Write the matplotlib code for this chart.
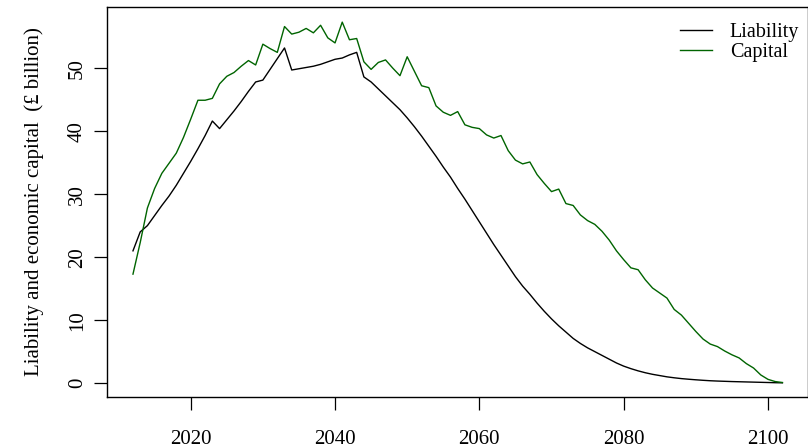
"""
Liability run-off vs economic capital, 2012-2102.
Output: out.png
"""
import matplotlib

matplotlib.use("Agg")
import matplotlib.pyplot as plt  # noqa: E402

plt.rcParams["font.family"] = ["Liberation Serif", "DejaVu Serif"]
plt.rcParams["font.size"] = 15

years = list(range(2012, 2103))

liability = [
    21.0, 24.0, 25.0, 26.6, 28.2, 29.7, 31.4, 33.3, 35.2, 37.2,
    39.3, 41.6, 40.4, 41.8, 43.2, 44.7, 46.3, 47.8, 48.1, 49.8,
    51.5, 53.2, 49.7, 49.9, 50.1, 50.3, 50.6, 51.0, 51.4, 51.6,
    52.1, 52.5, 48.6, 47.8, 46.7, 45.6, 44.5, 43.4, 42.1, 40.7,
    39.2, 37.6, 36.0, 34.3, 32.7, 30.9, 29.2, 27.4, 25.6, 23.8,
    22.0, 20.3, 18.6, 16.9, 15.4, 14.1, 12.7, 11.4, 10.2, 9.1,
    8.1, 7.1, 6.3, 5.6, 5.0, 4.4, 3.8, 3.2, 2.7, 2.3,
    1.95, 1.65, 1.4, 1.2, 1.0, 0.85, 0.72, 0.62, 0.53, 0.45,
    0.38, 0.33, 0.29, 0.25, 0.22, 0.19, 0.16, 0.13, 0.1, 0.07,
    0.05,
]

capital = [
    17.3, 22.3, 27.8, 30.9, 33.3, 34.9, 36.5, 39.0, 41.9, 44.9,
    44.9, 45.2, 47.5, 48.7, 49.3, 50.3, 51.2, 50.5, 53.8, 53.1,
    52.5, 56.6, 55.4, 55.7, 56.3, 55.6, 56.8, 54.8, 54.0, 57.3,
    54.5, 54.7, 51.0, 49.8, 50.9, 51.3, 50.0, 48.8, 51.8, 49.5,
    47.2, 46.9, 44.0, 43.0, 42.5, 43.1, 41.0, 40.6, 40.4, 39.4,
    38.9, 39.3, 36.9, 35.4, 34.8, 35.1, 33.1, 31.7, 30.4, 30.8,
    28.5, 28.2, 26.7, 25.8, 25.2, 24.1, 22.7, 21.0, 19.6, 18.3,
    18.0, 16.4, 15.1, 14.3, 13.5, 11.7, 10.8, 9.5, 8.2, 7.0,
    6.2, 5.8, 5.1, 4.5, 4.0, 3.1, 2.4, 1.3, 0.6, 0.25,
    0.1,
]

W, H = 808, 448
fig = plt.figure(figsize=(W / 100, H / 100), dpi=100)
ax = fig.add_axes([107 / W, 51 / H, 701.4 / W, 390 / H])

ax.plot(years, liability, color="black", lw=1.0, label="Liability")
ax.plot(years, capital, color="#006400", lw=1.0, label="Capital")

ax.set_xlim(2008.4, 2105.6)
ax.set_ylim(-2.2, 59.7)
ax.set_xticks([2020, 2040, 2060, 2080, 2100])
ax.set_yticks([0, 10, 20, 30, 40, 50])
ax.tick_params(axis="both", length=9.5, width=0.9, direction="out")
ax.tick_params(axis="x", pad=14)
ax.tick_params(axis="y", pad=5)
for lab in ax.get_yticklabels():
    lab.set_rotation(90)
    lab.set_va("center")
for s in ax.spines.values():
    s.set_linewidth(1.0)

ax.set_ylabel("Liability and economic capital  (\u00a3 billion)", labelpad=17)

ax.legend(loc="upper right", frameon=False, handlelength=1.55,
          handletextpad=0.9, labelspacing=0.05, borderaxespad=0.2,
          fontsize=14.5, bbox_to_anchor=(1.004, 0.99))

fig.savefig("out.png", dpi=100)
